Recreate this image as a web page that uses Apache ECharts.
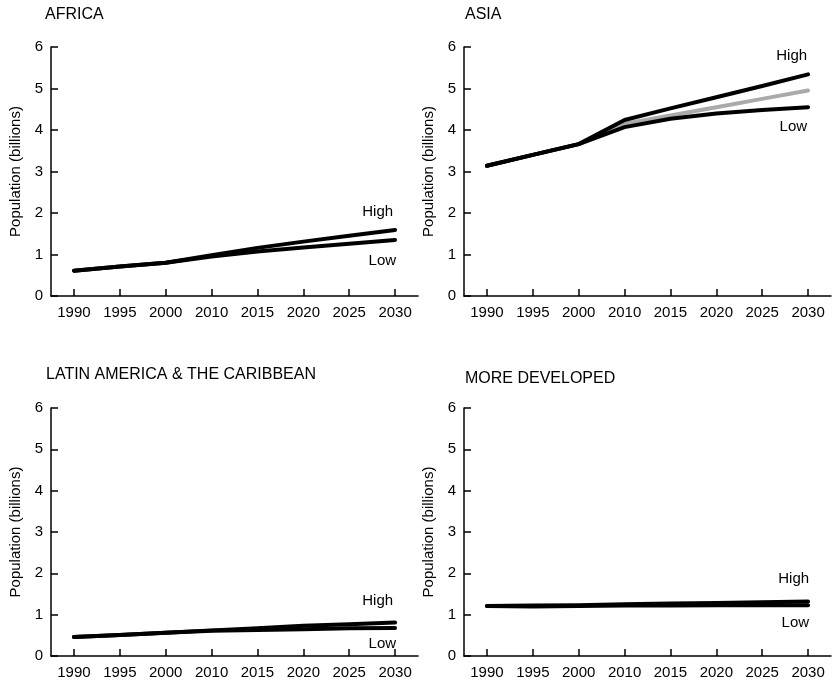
<!DOCTYPE html>
<html>
<head>
<meta charset="utf-8">
<script src="https://cdn.jsdelivr.net/npm/echarts@6/dist/echarts.min.js"></script>
<style>
  html, body { margin: 0; padding: 0; background: #fff; }
  #chart { width: 832px; height: 680px; }
</style>
</head>
<body>
<div id="chart"></div>
<script>
// ---- data ----
var years = ['1990', '1995', '2000', '2010', '2015', '2020', '2025', '2030'];
var yTicks = [0, 1, 2, 3, 4, 5, 6];
var panelTitles = ['AFRICA', 'ASIA', 'LATIN AMERICA & THE CARIBBEAN', 'MORE DEVELOPED'];
var yAxisName = 'Population (billions)';

var africaHigh = [0.61, 0.71, 0.80, 0.98, 1.16, 1.31, 1.45, 1.59];
var africaLow  = [0.61, 0.71, 0.80, 0.95, 1.07, 1.17, 1.26, 1.35];

var asiaHigh = [3.14, 3.40, 3.66, 4.24, 4.52, 4.79, 5.06, 5.34];
var asiaMid  = [3.14, 3.40, 3.66, 4.15, 4.35, 4.55, 4.75, 4.95];
var asiaLow  = [3.14, 3.40, 3.66, 4.07, 4.27, 4.40, 4.48, 4.55];

var latinHigh = [0.46, 0.51, 0.56, 0.62, 0.67, 0.73, 0.77, 0.81];
var latinLow  = [0.46, 0.51, 0.56, 0.61, 0.63, 0.65, 0.67, 0.68];

var mdHigh = [1.21, 1.22, 1.23, 1.25, 1.27, 1.28, 1.30, 1.32];
var mdLow  = [1.21, 1.20, 1.21, 1.22, 1.22, 1.23, 1.23, 1.23];

// ---- layout / style ----
var FONT = '"Liberation Sans", Arial, Helvetica, sans-serif';
var grids = [
  { left: 51, top: 47, width: 367, height: 249 },
  { left: 464, top: 47, width: 367, height: 249 },
  { left: 51, top: 408, width: 367, height: 249 },
  { left: 464, top: 408, width: 367, height: 249 }
];
var titlePos = [
  { left: 45, top: 7 },
  { left: 465, top: 7 },
  { left: 46, top: 367 },
  { left: 465, top: 371 }
];

function withEndLabel(values, text, where, dist, dx) {
  return values.map(function (v, i) {
    if (i !== values.length - 1) return v;
    return {
      value: v,
      label: {
        show: true,
        formatter: text,
        position: where,
        distance: dist,
        align: 'right',
        offset: [dx, 0],
        color: '#000',
        fontSize: 15,
        fontFamily: FONT
      }
    };
  });
}

function lineSeries(idx, data, color) {
  return {
    type: 'line',
    xAxisIndex: idx,
    yAxisIndex: idx,
    data: data,
    showSymbol: true,
    symbol: 'circle',
    symbolSize: 0,
    silent: true,
    lineStyle: { color: color, width: 4, cap: 'round', join: 'round' },
    itemStyle: { color: color },
    label: { show: false },
    z: color === '#000' ? 3 : 2
  };
}

var xAxes = grids.map(function (g, i) {
  return {
    type: 'category',
    gridIndex: i,
    data: years,
    boundaryGap: true,
    axisLine: { show: true, lineStyle: { color: '#000', width: 1.5 } },
    axisTick: { show: true, inside: true, alignWithLabel: true, length: 7, lineStyle: { color: '#000', width: 1.5 } },
    axisLabel: { color: '#000', fontSize: 15, fontFamily: FONT, margin: 9, interval: 0 },
    splitLine: { show: false }
  };
});

var yAxes = grids.map(function (g, i) {
  return {
    type: 'value',
    gridIndex: i,
    min: yTicks[0],
    max: yTicks[yTicks.length - 1],
    interval: 1,
    name: yAxisName,
    nameLocation: 'middle',
    nameGap: 28,
    nameTextStyle: { color: '#000', fontSize: 15, fontFamily: FONT },
    axisLine: { show: true, lineStyle: { color: '#000', width: 1.5 } },
    axisTick: { show: true, inside: true, length: 7, lineStyle: { color: '#000', width: 1.5 } },
    axisLabel: { color: '#000', fontSize: 15, fontFamily: FONT, margin: 8 },
    splitLine: { show: false }
  };
});

var titles = panelTitles.map(function (t, i) {
  return {
    text: t,
    left: titlePos[i].left,
    top: titlePos[i].top,
    padding: 0,
    textStyle: { color: '#000', fontSize: 16, fontWeight: 'normal', fontFamily: FONT }
  };
});

var series = [
  lineSeries(0, withEndLabel(africaHigh, 'High', 'top', 11, -2), '#000'),
  lineSeries(0, withEndLabel(africaLow, 'Low', 'bottom', 13, 1), '#000'),

  lineSeries(1, asiaMid, '#aaaaaa'),
  lineSeries(1, withEndLabel(asiaHigh, 'High', 'top', 11, -1), '#000'),
  lineSeries(1, withEndLabel(asiaLow, 'Low', 'bottom', 12, -1), '#000'),

  lineSeries(2, withEndLabel(latinHigh, 'High', 'top', 14, -2), '#000'),
  lineSeries(2, withEndLabel(latinLow, 'Low', 'bottom', 8, 1), '#000'),

  lineSeries(3, withEndLabel(mdHigh, 'High', 'top', 15, 1), '#000'),
  lineSeries(3, withEndLabel(mdLow, 'Low', 'bottom', 10, 1), '#000')
];

var chart = echarts.init(document.getElementById('chart'), null, { renderer: 'canvas' });
chart.setOption({
  animation: false,
  backgroundColor: '#fff',
  title: titles,
  grid: grids,
  xAxis: xAxes,
  yAxis: yAxes,
  series: series
});
</script>
</body>
</html>
